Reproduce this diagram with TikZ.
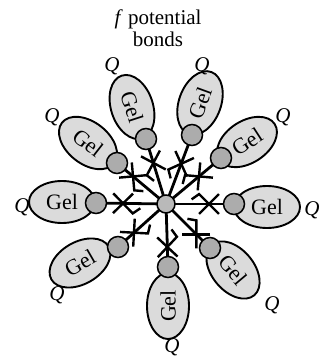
\documentclass[tikz,border=0pt]{standalone}
\usepackage{fontspec}
\setmainfont{Liberation Serif}
\usetikzlibrary{calc,backgrounds}
\begin{document}
\begin{tikzpicture}[x=1pt,y=-1pt,
  gel/.style={draw,line width=1.9pt,fill=gray!28},
  geltext/.style={font=\fontsize{22}{24}\selectfont,inner sep=0pt},
  ball/.style={circle,draw,line width=1.5pt,fill=gray!65,minimum size=21pt,inner sep=0pt},
  hub/.style={circle,draw,line width=1.5pt,fill=gray!55,minimum size=18pt,inner sep=0pt},
  arm/.style={line width=2.8pt},
  tick/.style={line width=2.4pt},
  qlab/.style={font=\fontsize{21}{23}\selectfont\itshape,inner sep=0pt},
  title/.style={align=center,font=\fontsize{21}{22}\selectfont,inner sep=0pt}]
\useasboundingbox (0,0) rectangle (327,358);
\node[title] (t) at (158,28) {\textit{f} potential\\bonds};
\node[hub] (c) at (166,204) {};
\foreach \n/\bx/\by/\ex/\ey/\r/\qx/\qy in {
  1/146/139/132/107/-72/112/66,
  2/192/135/200/103/70/202/66,
  3/117/163/88/143/-38/52/117,
  4/221/158/247/142/33/283/117,
  5/96/203/62/202/0/22/207,
  6/234/204/267/207/0/312/210,
  7/118/247/80/263/30/57/295,
  8/210/248/233/270/-50/272/305,
  9/168/267/168/306/90/172/347}{
  \begin{scope}[shift={(\ex,\ey)},rotate=\r]
    \draw[gel] (0,0) ellipse [x radius=33pt,y radius=21pt];
  \end{scope}
  \node[geltext,rotate=\r] (l\n) at (\ex,\ey) {Gel};
  \node[ball] (b\n) at (\bx,\by) {};
  \node[qlab] (q\n) at (\qx,\qy) {Q};
}
\begin{scope}[on background layer]
\foreach \n in {1,...,9}{
  \draw[arm] (c.center) -- (b\n.center);
  \coordinate (x\n) at ($(c)!43pt!(b\n)$);
  \draw[tick] ($(x\n)!14pt!45:(b\n)$) -- ($(x\n)!14pt!-135:(b\n)$);
  \draw[tick] ($(x\n)!14pt!-45:(b\n)$) -- ($(x\n)!14pt!135:(b\n)$) -- ($(x\n)!18pt!165:(b\n)$);
}
\end{scope}
\end{tikzpicture}
\end{document}
